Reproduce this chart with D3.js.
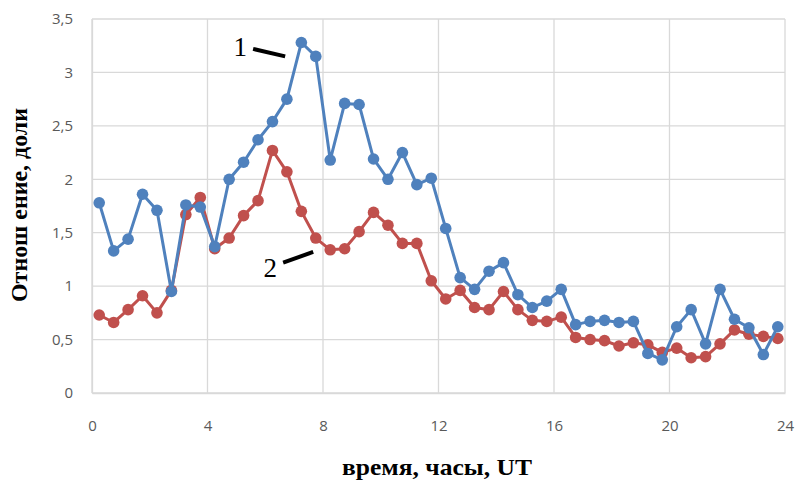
<!DOCTYPE html>
<html>
<head>
<meta charset="utf-8">
<script src="https://cdn.jsdelivr.net/npm/d3@7"></script>
<style>
  body { margin: 0; background: #fff; }
  svg { display: block; }
  .tick text { font-family: "Open Sans", "Liberation Sans", sans-serif; fill: #595959; font-size: 15px; }
  .title { font-family: "Liberation Serif", "DejaVu Serif", serif; font-weight: bold; font-size: 23px; fill: #000; }
</style>
</head>
<body>
<svg id="chart" width="796" height="480"></svg>
<script>
// time, hours UT (half-hour steps)
const hours = [0.25,0.75,1.25,1.75,2.25,2.75,3.25,3.75,4.25,4.75,5.25,5.75,6.25,6.75,7.25,7.75,
  8.25,8.75,9.25,9.75,10.25,10.75,11.25,11.75,12.25,12.75,13.25,13.75,14.25,14.75,15.25,15.75,
  16.25,16.75,17.25,17.75,18.25,18.75,19.25,19.75,20.25,20.75,21.25,21.75,22.25,22.75,23.25,23.75];

// curve 1 (blue)
const series1 = [1.78,1.33,1.44,1.86,1.71,0.95,1.76,1.74,1.37,2.0,2.16,2.37,2.54,2.75,3.28,3.15,
  2.18,2.71,2.7,2.19,2.0,2.25,1.95,2.01,1.54,1.08,0.97,1.14,1.22,0.92,0.8,0.86,
  0.97,0.64,0.67,0.68,0.66,0.67,0.37,0.31,0.62,0.78,0.46,0.97,0.69,0.61,0.36,0.62];

// curve 2 (red)
const series2 = [0.73,0.66,0.78,0.91,0.75,0.96,1.67,1.83,1.35,1.45,1.66,1.8,2.27,2.07,1.7,1.45,
  1.34,1.35,1.51,1.69,1.57,1.4,1.4,1.05,0.88,0.96,0.8,0.78,0.95,0.78,0.68,0.67,
  0.71,0.52,0.5,0.49,0.44,0.47,0.45,0.38,0.42,0.33,0.34,0.46,0.59,0.55,0.53,0.51];

const xTicks = [0,4,8,12,16,20,24];
const yTicks = [0,0.5,1,1.5,2,2.5,3,3.5];

const svg = d3.select("#chart");
const plotLeft = 92, plotRight = 785, plotTop = 19, plotBottom = 393;

const x = d3.scaleLinear().domain([0, 24]).range([plotLeft, plotRight]);
const y = d3.scaleLinear().domain([0, 3.5]).range([plotBottom, plotTop]);
const fmt = d => String(d).replace(".", ",");

// grid
svg.append("g")
  .selectAll("line")
  .data(yTicks)
  .join("line")
  .attr("x1", plotLeft).attr("x2", plotRight)
  .attr("y1", d => y(d)).attr("y2", d => y(d))
  .attr("stroke", "#d9d9d9").attr("stroke-width", 1.3);

svg.append("g")
  .selectAll("line")
  .data(xTicks)
  .join("line")
  .attr("x1", d => x(d)).attr("x2", d => x(d))
  .attr("y1", plotTop).attr("y2", plotBottom)
  .attr("stroke", "#d9d9d9").attr("stroke-width", 1.3);

// axes (labels only)
const xAxis = svg.append("g")
  .attr("transform", `translate(0,${plotBottom})`)
  .call(d3.axisBottom(x).tickValues(xTicks).tickSize(0).tickPadding(27).tickFormat(fmt));
xAxis.select(".domain").attr("stroke", "#d9d9d9").attr("stroke-width", 1.3);

const yAxis = svg.append("g")
  .attr("transform", `translate(${plotLeft},0)`)
  .call(d3.axisLeft(y).tickValues(yTicks).tickSize(0).tickPadding(19).tickFormat(fmt));
yAxis.select(".domain").attr("stroke", "#d9d9d9").attr("stroke-width", 1.3);

// series
function drawSeries(values, color) {
  const pts = hours.map((h, i) => [h, values[i]]);
  svg.append("path")
    .datum(pts)
    .attr("fill", "none")
    .attr("stroke", color)
    .attr("stroke-width", 3)
    .attr("stroke-linejoin", "round")
    .attr("d", d3.line().x(d => x(d[0])).y(d => y(d[1])));
  svg.append("g")
    .selectAll("circle")
    .data(pts)
    .join("circle")
    .attr("cx", d => x(d[0]))
    .attr("cy", d => y(d[1]))
    .attr("r", 5.8)
    .attr("fill", color);
}
drawSeries(series2, "#c0504d");
drawSeries(series1, "#4f81bd");

// curve annotations
const notes = [
  { label: "1", tx: 5.13, ty: 3.15, x1: 5.58, y1: 3.22, x2: 6.69, y2: 3.15 },
  { label: "2", tx: 6.17, ty: 1.09, x1: 6.62, y1: 1.22, x2: 7.66, y2: 1.32 }
];
notes.forEach(n => {
  svg.append("text")
    .attr("x", x(n.tx)).attr("y", y(n.ty))
    .attr("text-anchor", "middle")
    .attr("font-family", "Liberation Serif, serif")
    .attr("font-size", 27)
    .text(n.label);
  svg.append("line")
    .attr("x1", x(n.x1)).attr("y1", y(n.y1))
    .attr("x2", x(n.x2)).attr("y2", y(n.y2))
    .attr("stroke", "#000").attr("stroke-width", 4);
});

// titles
svg.append("text")
  .attr("class", "title")
  .attr("x", 437).attr("y", 475)
  .attr("text-anchor", "middle")
  .attr("textLength", 190)
  .attr("lengthAdjust", "spacingAndGlyphs")
  .text("время, часы, UT");

svg.append("text")
  .attr("class", "title")
  .attr("transform", "translate(27,205) rotate(-90)")
  .attr("text-anchor", "middle")
  .attr("textLength", 194)
  .attr("lengthAdjust", "spacingAndGlyphs")
  .text("Отнош ение, доли");
</script>
</body>
</html>
